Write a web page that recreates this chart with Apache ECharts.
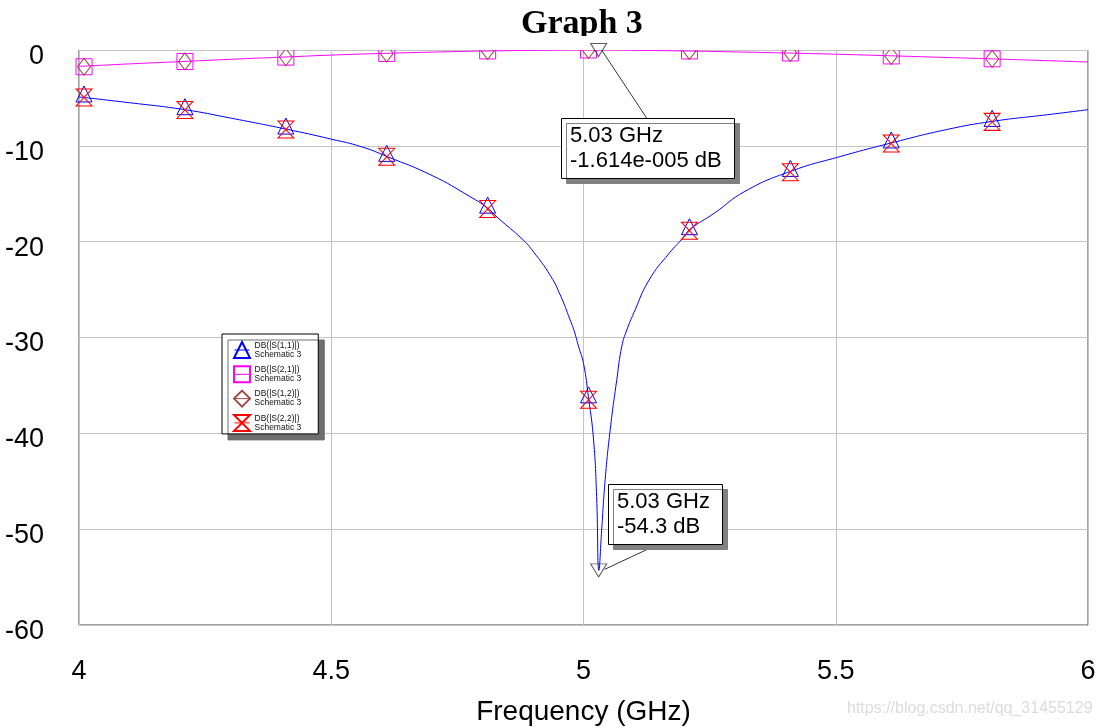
<!DOCTYPE html>
<html><head><meta charset="utf-8">
<script src="https://cdn.jsdelivr.net/npm/echarts@6/dist/echarts.min.js"></script>
<style>html,body{margin:0;padding:0;background:#fff}#c{width:1099px;height:728px}</style>
</head><body><div id="c"></div>
<script>
// ---- data ----
const titleText = 'Graph 3';
const xAxisName = 'Frequency (GHz)';
const seriesNames = ['DB(|S(1,1)|)', 'DB(|S(2,1)|)', 'DB(|S(1,2)|)', 'DB(|S(2,2)|)'];
const schematicLabel = 'Schematic 3';

const s11Freq = [4.00, 4.10, 4.21, 4.30, 4.41, 4.50, 4.56, 4.61, 4.70, 4.775, 4.81, 4.83, 4.88, 4.90, 4.935, 4.955, 4.973, 4.982, 4.99, 5.00, 5.01, 5.02, 5.026, 5.0305, 5.036, 5.043, 5.053, 5.066, 5.076, 5.086, 5.10, 5.13, 5.17, 5.20, 5.21, 5.26, 5.32, 5.41, 5.51, 5.61, 5.72, 5.81, 5.92, 6.00];
const s11Db   = [-4.9, -5.5, -6.23, -7.1, -8.25, -9.3, -10.1, -11.1, -13.1, -15.3, -16.5, -17.5, -19.8, -21.0, -23.6, -25.7, -28.1, -29.4, -30.9, -32.7, -36.3, -40.7, -46.6, -54.3, -50.1, -44.8, -39.6, -34.4, -30.9, -29.2, -27.4, -24.0, -21.2, -19.45, -18.75, -17.0, -14.75, -12.67, -11.1, -9.7, -8.3, -7.45, -6.75, -6.23];

const s21Freq = [4.00, 4.10, 4.21, 4.30, 4.41, 4.50, 4.60, 4.70, 4.80, 4.90, 4.95, 5.00, 5.03, 5.07, 5.10, 5.20, 5.30, 5.40, 5.50, 5.60, 5.70, 5.80, 5.90, 6.00];
const s21Db   = [-1.71, -1.45, -1.19, -0.97, -0.73, -0.53, -0.36, -0.22, -0.11, -0.04, -0.015, -0.002, 0, -0.01, -0.03, -0.1, -0.2, -0.31, -0.44, -0.59, -0.75, -0.91, -1.08, -1.25];

// S(1,2) overlaps S(2,1) and S(2,2) overlaps S(1,1) in the picture
const s12Freq = s21Freq, s12Db = s21Db;
const s22Freq = s11Freq, s22Db = s11Db;

const markerFreq = [4.01, 4.21, 4.41, 4.61, 4.81, 5.01, 5.21, 5.41, 5.61, 5.81];
const s11Markers = [-4.9, -6.23, -8.25, -11.1, -16.5, -36.3, -18.75, -12.67, -9.7, -7.45];
const s21Markers = [-1.75, -1.2, -0.74, -0.36, -0.1, -0.002, -0.1, -0.31, -0.62, -0.92];
const s12Markers = [-1.75, -1.2, -0.74, -0.36, -0.1, -0.002, -0.1, -0.31, -0.62, -0.92];
const s22Markers = [-4.95, -6.25, -8.3, -11.15, -16.6, -36.5, -18.85, -12.75, -9.75, -7.5];

const annotFreq = [5.03, 5.03];
const annotDb = [-1.614e-5, -54.3];
const annotLines = [['5.03 GHz', '-1.614e-005 dB'], ['5.03 GHz', '-54.3 dB']];

const xMin = 4, xMax = 6, xStep = 0.5;
const yMin = -60, yMax = 0, yStep = 10;
const watermark = 'https://blog.csdn.net/qq_31455129';

// ---- chart ----
const SANS = '"Liberation Sans", Arial, sans-serif';
const colors = ['#0000ff', '#ff00ff', '#a04848', '#ff0000'];
const hourglass = 'path://M0,0L16,0L0,17L16,17Z';
const symbols = ['triangle', 'rect', 'diamond', hourglass];
const symSizes = [[16, 16], [16, 16], [13, 17], [16, 17]];
const symOffsets = [[0, -3], [0, 0], [0, 0], [0, 0]];
const curves = [[s11Freq, s11Db], [s21Freq, s21Db], [s12Freq, s12Db], [s22Freq, s22Db]];
const markers = [s11Markers, s21Markers, s12Markers, s22Markers];
const lineZ = [4, 4, 3, 3];
const lineOpacity = [1, 1, 0, 0]; // hidden traces lie exactly under S(2,1) / S(1,1)

const series = seriesNames.map((name, k) => ({
  name, type: 'line', clip: false, z: lineZ[k],
  showSymbol: false, symbol: symbols[k], symbolSize: 12,
  smooth: true,
  data: curves[k][0].map((f, i) => [f, curves[k][1][i]]),
  lineStyle: { color: colors[k], width: 1, opacity: lineOpacity[k] },
  itemStyle: { color: 'rgba(0,0,0,0)', borderColor: colors[k], borderWidth: 1 },
  emphasis: { disabled: true },
  animation: false,
  markPoint: {
    silent: true, animation: false,
    symbol: symbols[k], symbolSize: symSizes[k], symbolOffset: symOffsets[k],
    label: { show: false },
    itemStyle: { color: 'rgba(0,0,0,0)', borderColor: colors[k], borderWidth: 1 },
    data: markerFreq.map((f, i) => ({ coord: [f, markers[k][i]] }))
  }
}));

series.push({
  name: 'annot', type: 'scatter', z: 10, silent: true, animation: false,
  symbol: 'triangle', symbolRotate: 180, symbolSize: [16, 13],
  itemStyle: { color: 'rgba(0,0,0,0)', borderColor: '#333', borderWidth: 1 },
  data: annotFreq.map((f, i) => [f, annotDb[i]])
});

const chart = echarts.init(document.getElementById('c'), null, { renderer: 'canvas' });
const option = {
  backgroundColor: '#fff',
  animation: false,
  title: {
    text: titleText, left: 521, top: 7, padding: 0,
    textStyle: { fontFamily: '"Liberation Serif", "Times New Roman", serif', fontWeight: 'bold', fontSize: 34, color: '#000' }
  },
  legend: {
    data: seriesNames.map((n, k) => ({ name: n, lineStyle: { color: colors[k], width: 1, opacity: 1 } })),
    orient: 'vertical', left: 222, top: 334,
    itemWidth: 15, itemHeight: 20, itemGap: 6.3,
    padding: [7, 17, 2, 11],
    backgroundColor: '#fff', borderColor: '#000', borderWidth: 1,
    shadowColor: '#6e6e6e', shadowOffsetX: 6, shadowOffsetY: 6, shadowBlur: 0,
    selectedMode: false,
    formatter: n => n + '\n' + schematicLabel,
    textStyle: { fontFamily: SANS, fontSize: 8.5, lineHeight: 9, color: '#111' }
  },
  grid: { left: 79, right: 11, top: 50, bottom: 103, outerBoundsMode: 'none', containLabel: false,
          show: true, borderColor: '#444', borderWidth: 1, backgroundColor: 'transparent' },
  xAxis: {
    type: 'value', min: xMin, max: xMax, interval: xStep,
    name: xAxisName, nameLocation: 'middle', nameGap: 73,
    nameTextStyle: { fontFamily: SANS, fontSize: 28, color: '#000' },
    axisLine: { show: false }, axisTick: { show: false },
    axisLabel: { fontFamily: SANS, fontSize: 27, color: '#000', margin: 33 },
    splitLine: { show: true, lineStyle: { color: '#c4c4c4', width: 1 } }
  },
  yAxis: {
    type: 'value', min: yMin, max: yMax, interval: yStep,
    axisLine: { show: false }, axisTick: { show: false },
    axisLabel: { fontFamily: SANS, fontSize: 27, color: '#000', margin: 35, verticalAlign: 'top', lineHeight: 13 },
    splitLine: { show: true, lineStyle: { color: '#c4c4c4', width: 1 } }
  },
  series
};
chart.setOption(option);

// annotation boxes, leader lines, top cover, watermark
const grid = chart.getModel().getComponent('grid', 0).coordinateSystem.getRect();
const graphics = [];
graphics.push({
  type: 'rect', z: 7, silent: true,
  shape: { x: grid.x - 20, y: grid.y - 14, width: grid.width + 40, height: 14 },
  style: { fill: '#fff' }
});
const boxOff = [{ dx: -38, dy: 68, w: 173, lx0: 3, ly0: 0, lx1: 48, ly1: 68 },
                { dx: 9, dy: -86.5, w: 114, lx0: 6, ly0: -1, lx1: 55, ly1: -24 }];
annotFreq.forEach((f, i) => {
  const p = chart.convertToPixel({ gridIndex: 0 }, [f, annotDb[i]]);
  const o = boxOff[i];
  graphics.push({
    type: 'line', z: 11, silent: true,
    shape: { x1: p[0] + o.lx0, y1: p[1] + o.ly0, x2: p[0] + o.lx1, y2: p[1] + o.ly1 },
    style: { stroke: '#333', lineWidth: 1 }
  });
  graphics.push({
    type: 'rect', z: 12, silent: true,
    shape: { x: Math.round(p[0] + o.dx) + 0.5, y: Math.round(p[1] + o.dy) + 0.5, width: o.w, height: 60 },
    style: { fill: '#fff', stroke: '#000', lineWidth: 1, shadowColor: '#808080', shadowOffsetX: 5, shadowOffsetY: 5, shadowBlur: 0 }
  });
  graphics.push({
    type: 'text', z: 13, silent: true,
    x: Math.round(p[0] + o.dx) + 9, y: Math.round(p[1] + o.dy) + 5.5,
    style: { text: annotLines[i].join('\n'), font: '22px ' + SANS, fill: '#000', lineHeight: 25 }
  });
});
graphics.push({
  type: 'text', z: 1, silent: true, x: 847, y: 701,
  style: { text: watermark, font: '16px ' + SANS, fill: '#dcdcdc' }
});
chart.setOption({ graphic: graphics });
</script>
</body></html>
